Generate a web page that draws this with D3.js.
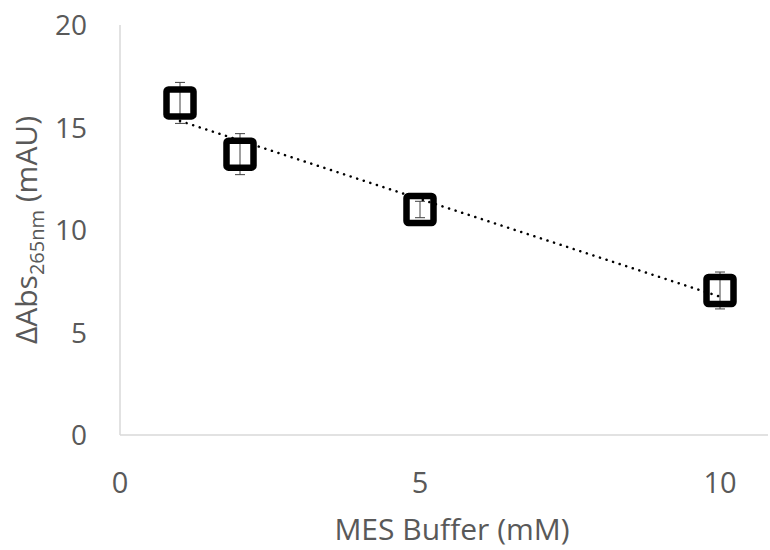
<!DOCTYPE html>
<html>
<head>
<meta charset="utf-8">
<script src="https://cdn.jsdelivr.net/npm/d3@7"></script>
<style>
  body { margin: 0; background: #fff; }
  svg text { font-family: "Open Sans", sans-serif; fill: #595959; }
</style>
</head>
<body>
<div id="chart"></div>
<script>
// MES buffer concentration (mM) vs delta absorbance (mAU)
var buffer = [1, 2, 5, 10];
var deltaAbs = [16.2, 13.7, 11.0, 7.05];
var errors = [1.0, 1.0, 0.4, 0.9];
var xTicks = [0, 5, 10];
var yTicks = [0, 5, 10, 15, 20];

var width = 770, height = 550;
var margin = { top: 25, right: 2, bottom: 115, left: 120 };

var svg = d3.select("#chart").append("svg")
    .attr("width", width)
    .attr("height", height);

var x = d3.scaleLinear()
    .domain([0, 10.8])
    .range([margin.left, width - margin.right]);
var y = d3.scaleLinear()
    .domain([0, 20])
    .range([height - margin.bottom, margin.top]);

// axes lines
svg.append("line")
    .attr("x1", x(0)).attr("x2", x(0))
    .attr("y1", y(20)).attr("y2", y(0))
    .attr("stroke", "#d9d9d9").attr("stroke-width", 1.5);
svg.append("line")
    .attr("x1", x(0)).attr("x2", x(10.8))
    .attr("y1", y(0)).attr("y2", y(0))
    .attr("stroke", "#d9d9d9").attr("stroke-width", 1.5);

// tick labels
svg.selectAll(".ytick")
    .data(yTicks)
    .enter().append("text")
    .attr("class", "ytick")
    .attr("x", x(0) - 33)
    .attr("y", function (d) { return y(d); })
    .attr("dy", "0.36em")
    .attr("text-anchor", "end")
    .style("font-size", "28px")
    .text(function (d) { return d; });

svg.selectAll(".xtick")
    .data(xTicks)
    .enter().append("text")
    .attr("class", "xtick")
    .attr("x", function (d) { return x(d); })
    .attr("y", 493)
    .attr("text-anchor", "middle")
    .style("font-size", "29px")
    .text(function (d) { return d; });

// axis titles
svg.append("text")
    .attr("x", 452)
    .attr("y", 540)
    .attr("text-anchor", "middle")
    .style("font-size", "30px")
    .text("MES Buffer (mM)");

var ylab = svg.append("text")
    .attr("transform", "translate(37,230) rotate(-90)")
    .attr("text-anchor", "middle")
    .style("font-size", "30px");
ylab.append("tspan").text("\u0394Abs");
ylab.append("tspan").attr("dy", 7).style("font-size", "20px").text("265nm");
ylab.append("tspan").attr("dy", -7).text(" (mAU)");

var data = buffer.map(function (b, i) {
    return { x: b, y: deltaAbs[i], e: errors[i] };
});

// linear trendline (least squares)
var mx = d3.mean(buffer), my = d3.mean(deltaAbs);
var sxy = d3.sum(data, function (d) { return (d.x - mx) * (d.y - my); });
var sxx = d3.sum(data, function (d) { return (d.x - mx) * (d.x - mx); });
var slope = sxy / sxx, intercept = my - slope * mx;
var xExt = d3.extent(buffer);

// error bars
var eb = svg.selectAll(".err").data(data).enter().append("g")
    .attr("stroke", "#404040").attr("stroke-width", 1);
eb.append("line")
    .attr("x1", function (d) { return x(d.x); })
    .attr("x2", function (d) { return x(d.x); })
    .attr("y1", function (d) { return y(d.y + d.e); })
    .attr("y2", function (d) { return y(d.y - d.e); });
eb.append("line")
    .attr("x1", function (d) { return x(d.x) - 5; })
    .attr("x2", function (d) { return x(d.x) + 5; })
    .attr("y1", function (d) { return y(d.y + d.e); })
    .attr("y2", function (d) { return y(d.y + d.e); });
eb.append("line")
    .attr("x1", function (d) { return x(d.x) - 5; })
    .attr("x2", function (d) { return x(d.x) + 5; })
    .attr("y1", function (d) { return y(d.y - d.e); })
    .attr("y2", function (d) { return y(d.y - d.e); });

svg.append("line")
    .attr("x1", x(xExt[0])).attr("y1", y(intercept + slope * xExt[0]))
    .attr("x2", x(xExt[1])).attr("y2", y(intercept + slope * xExt[1]))
    .attr("stroke", "#000")
    .attr("stroke-width", 2.5)
    .attr("stroke-linecap", "round")
    .attr("stroke-dasharray", "0.1,6.8");

// square markers
svg.selectAll(".pt")
    .data(data)
    .enter().append("rect")
    .attr("class", "pt")
    .attr("x", function (d) { return x(d.x) - 13.5; })
    .attr("y", function (d) { return y(d.y) - 13.5; })
    .attr("width", 27)
    .attr("height", 27)
    .attr("rx", 2)
    .attr("fill", "none")
    .attr("stroke", "#000")
    .attr("stroke-width", 6.5);
</script>
</body>
</html>
